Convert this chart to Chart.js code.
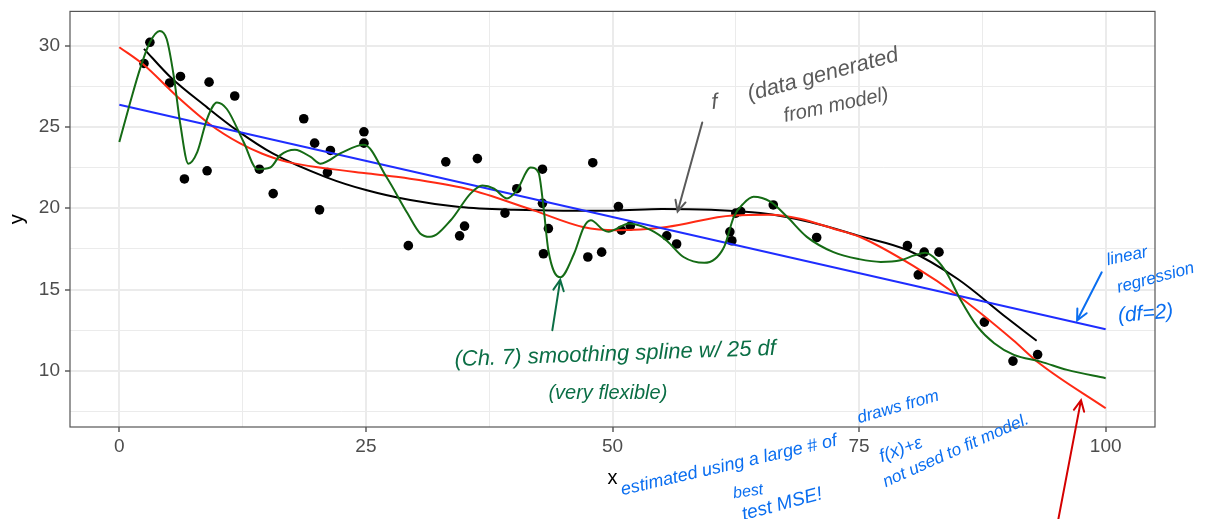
<!DOCTYPE html>
<html>
<head>
<meta charset="utf-8">
<script src="https://cdn.jsdelivr.net/npm/chart.js@4.4.1/dist/chart.umd.min.js"></script>
<style>
  html, body { margin: 0; padding: 0; background: #fff; overflow: hidden; }
  #myChart { display: block; margin-top: -5px; }
</style>
</head>
<body>
<canvas id="myChart" width="1212" height="524"></canvas>
<script>
// observed data
const pointX = [2.5,3.1,5.1,6.2,6.6,8.9,9.1,11.7,14.2,15.6,18.7,19.8,20.3,21.1,21.4,24.8,24.8,29.3,33.1,34.5,35.0,36.3,39.1,40.3,42.9,42.9,43.0,43.5,47.5,48.0,48.9,50.6,50.9,51.8,55.5,56.5,61.9,62.1,62.5,63.0,66.3,70.7,79.9,81.0,81.6,83.1,87.7,90.6,93.1];
const pointY = [28.9,30.2,27.7,28.1,21.8,22.3,27.75,26.9,22.4,20.9,25.5,24.0,19.9,22.2,23.55,24.7,24.0,17.7,22.85,18.3,18.9,23.05,19.7,21.2,22.4,20.3,17.2,18.75,17.0,22.8,17.3,20.1,18.65,18.9,18.3,17.8,18.55,18.0,19.7,19.8,20.2,18.2,17.7,15.9,17.3,17.3,13.0,10.6,11.0];

// true f
const trueX = [2.5,5.2,8.9,11.9,15.6,21.0,25.1,29.5,34.5,40,45,50,55,60,65,70,75,80,85,90,93];
const trueY = [29.8,28.05,26.2,24.8,23.35,21.9,21.1,20.5,20.07,19.9,19.85,19.85,19.95,19.9,19.7,19.15,18.3,17.4,15.65,13.25,11.85];

// linear regression
const linX = [0,100];
const linY = [26.36,12.56];

// moderately flexible fit
const redX = [0,2.5,5.8,9.2,12.2,14.5,17,21,25,28.5,35.2,42,47,50.4,55.5,62.2,66,69,72.4,75.1,80.5,85.2,90.6,93.3,100];
const redY = [29.9,28.8,26.9,25.15,24.0,23.35,22.85,22.45,22.15,21.9,21.2,19.87,18.85,18.65,18.85,19.56,19.6,19.35,18.74,18.23,16.45,14.54,11.9,10.45,7.7];

// smoothing spline, 25 df
const splineX = [0,1.1,2.1,3.1,4.1,4.8,5.5,6.2,7.0,7.9,8.9,9.9,10.9,12.6,14.0,15.3,16.3,17.8,19.4,20.4,22.5,24.8,27.1,29.2,30.5,31.5,33.6,35.6,36.8,38.0,39.3,40.3,41.7,42.5,43.0,43.5,44.7,46.1,47.1,47.8,49.1,49.6,50.1,51.7,53.9,55.5,57.2,59.3,61.3,62.3,63.3,64.3,66.0,67.7,69.7,72.4,75.0,77.2,79.2,80.6,81.7,82.9,83.9,85.3,87.0,88.7,90.7,93.4,96.1,100];
const splineY = [24.07,26.5,28.57,30.2,30.9,30.4,28.2,25.1,22.74,23.45,25.5,26.5,26.1,24.07,22.4,22.5,23.25,23.6,23.15,22.74,23.4,23.9,21.9,19.7,18.45,18.24,19.26,20.9,21.4,21.2,20.6,21.1,22.5,22.2,20.1,17.4,15.75,17.2,18.85,19.26,18.65,18.55,18.65,19.06,18.65,18.0,17.0,16.64,17.6,19.47,20.3,20.7,20.4,19.47,18.24,17.3,16.87,16.7,16.8,17.1,17.26,16.8,16.0,14.36,12.72,11.7,10.98,10.57,10.06,9.55];

const xTicks = [0,12.5,25,37.5,50,62.5,75,87.5,100];
const yTicks = [7.5,10,12.5,15,17.5,20,22.5,25,27.5,30];

// handwritten notes (data units)
const notes = [
  {t: 'f', x: 60.1, y: 26.1, a: -5, s: 22, c: '#5a5a5a'},
  {t: '(data generated', x: 63.9, y: 26.6, a: -15, s: 22, c: '#5a5a5a'},
  {t: 'from model)', x: 67.5, y: 25.3, a: -12, s: 20, c: '#5a5a5a'},
  {t: '(Ch. 7) smoothing spline w/ 25 df', x: 34.0, y: 10.3, a: -2, s: 22, c: '#0b6e45'},
  {t: '(very flexible)', x: 43.5, y: 8.3, a: 0, s: 20, c: '#0b6e45'},
  {t: 'linear', x: 100.2, y: 16.5, a: -12, s: 17, c: '#0a6ef0'},
  {t: 'regression', x: 101.3, y: 14.8, a: -15, s: 17, c: '#0a6ef0'},
  {t: '(df=2)', x: 101.3, y: 13.0, a: -5, s: 21, c: '#0a6ef0'},
  {t: 'estimated using a large # of', x: 51.0, y: 2.36, a: -13, s: 18, c: '#0a6ef0'},
  {t: 'draws from', x: 75.0, y: 6.78, a: -16, s: 17, c: '#0a6ef0'},
  {t: 'f(x)+ε', x: 77.3, y: 4.39, a: -20, s: 18, c: '#0a6ef0'},
  {t: 'not used to fit model.', x: 77.7, y: 2.85, a: -24, s: 17, c: '#0a6ef0'},
  {t: 'best', x: 62.3, y: 2.17, a: -8, s: 16, c: '#0a6ef0'},
  {t: 'test MSE!', x: 63.3, y: 0.82, a: -15, s: 19, c: '#0a6ef0'}
];
const arrows = [
  {x1: 59.1, y1: 25.27, x2: 56.6, y2: 19.8, c: '#5a5a5a'},
  {x1: 43.9, y1: 12.5, x2: 44.7, y2: 15.6, c: '#0b6e45'},
  {x1: 99.6, y1: 16.06, x2: 97.1, y2: 13.1, c: '#0a6ef0'},
  {x1: 95.2, y1: 0.88, x2: 97.5, y2: 8.2, c: '#d40000'}
];

const fam = "'Liberation Sans', Arial, sans-serif";
const xy = (xs, ys) => xs.map((v, i) => ({x: v, y: ys[i]}));

const panelPlugin = {
  id: 'panel',
  afterDraw(chart) {
    const {ctx, chartArea: a, scales: {x, y}} = chart;
    ctx.save();
    ctx.strokeStyle = '#555';
    ctx.lineWidth = 1.2;
    ctx.strokeRect(a.left, a.top, a.right - a.left, a.bottom - a.top);

    notes.forEach(n => {
      ctx.save();
      ctx.translate(x.getPixelForValue(n.x), y.getPixelForValue(n.y));
      ctx.rotate(n.a * Math.PI / 180);
      ctx.fillStyle = n.c;
      ctx.font = 'italic ' + n.s + 'px ' + fam;
      ctx.textBaseline = 'alphabetic';
      ctx.fillText(n.t, 0, 0);
      ctx.restore();
    });

    arrows.forEach(r => {
      const x1 = x.getPixelForValue(r.x1), y1 = y.getPixelForValue(r.y1);
      const x2 = x.getPixelForValue(r.x2), y2 = y.getPixelForValue(r.y2);
      const ang = Math.atan2(y2 - y1, x2 - x1);
      ctx.strokeStyle = r.c;
      ctx.lineWidth = 2;
      ctx.lineCap = 'round';
      ctx.beginPath();
      ctx.moveTo(x1, y1);
      ctx.lineTo(x2, y2);
      ctx.moveTo(x2 - 12 * Math.cos(ang - 0.45), y2 - 12 * Math.sin(ang - 0.45));
      ctx.lineTo(x2, y2);
      ctx.lineTo(x2 - 12 * Math.cos(ang + 0.45), y2 - 12 * Math.sin(ang + 0.45));
      ctx.stroke();
    });
    ctx.restore();
  }
};

const ctx = document.getElementById('myChart');

new Chart(ctx, {
  type: 'scatter',
  data: {
    datasets: [
      {data: xy(splineX, splineY), showLine: true, borderColor: '#156b15', borderWidth: 2, pointRadius: 0, cubicInterpolationMode: 'monotone', order: 0},
      {data: xy(linX, linY), showLine: true, borderColor: '#1f2dff', borderWidth: 2, pointRadius: 0, order: 1},
      {data: xy(redX, redY), showLine: true, borderColor: '#ff2a14', borderWidth: 2, pointRadius: 0, cubicInterpolationMode: 'monotone', order: 2},
      {data: xy(trueX, trueY), showLine: true, borderColor: '#000', borderWidth: 2, pointRadius: 0, cubicInterpolationMode: 'monotone', order: 3},
      {data: xy(pointX, pointY), backgroundColor: '#000', borderWidth: 0, pointRadius: 4.8, order: 4}
    ]
  },
  options: {
    responsive: false,
    animation: false,
    devicePixelRatio: 1,
    layout: {padding: {left: 0, top: 6, right: 57, bottom: 0}},
    plugins: {
      legend: {display: false},
      tooltip: {enabled: false}
    },
    scales: {
      x: {
        type: 'linear',
        min: -5,
        max: 105,
        afterBuildTicks: s => { s.ticks = xTicks.map(v => ({value: v})); },
        afterFit: s => { s.height = 92; },
        ticks: {
          autoSkip: false,
          maxRotation: 0,
          color: '#4d4d4d',
          padding: 3,
          font: {size: 19, family: fam},
          callback: v => (v % 25 === 0 ? v : '')
        },
        grid: {
          color: '#ebebeb',
          lineWidth: c => (c.tick && c.tick.value % 25 === 0 ? 2 : 1),
          tickColor: c => (c.tick && c.tick.value % 25 === 0 ? '#333' : 'rgba(0,0,0,0)'),
          tickLength: 5,
          tickWidth: 1.2
        },
        border: {display: false},
        title: {display: true, text: 'x', color: '#000', font: {size: 20, family: fam}, padding: {top: 4, bottom: 29}}
      },
      y: {
        type: 'linear',
        min: 6.55,
        max: 32.1,
        afterBuildTicks: s => { s.ticks = yTicks.map(v => ({value: v})); },
        afterFit: s => { s.width = 70; },
        ticks: {
          autoSkip: false,
          color: '#4d4d4d',
          padding: 5,
          font: {size: 19, family: fam},
          callback: v => (v % 5 === 0 ? v : '')
        },
        grid: {
          color: '#ebebeb',
          lineWidth: c => (c.tick && c.tick.value % 5 === 0 ? 2 : 1),
          tickColor: c => (c.tick && c.tick.value % 5 === 0 ? '#333' : 'rgba(0,0,0,0)'),
          tickLength: 5,
          tickWidth: 1.2
        },
        border: {display: false},
        title: {display: true, text: 'y', color: '#000', font: {size: 20, family: fam}, padding: {top: 5, bottom: 4}}
      }
    }
  },
  plugins: [panelPlugin]
});
</script>
</body>
</html>
